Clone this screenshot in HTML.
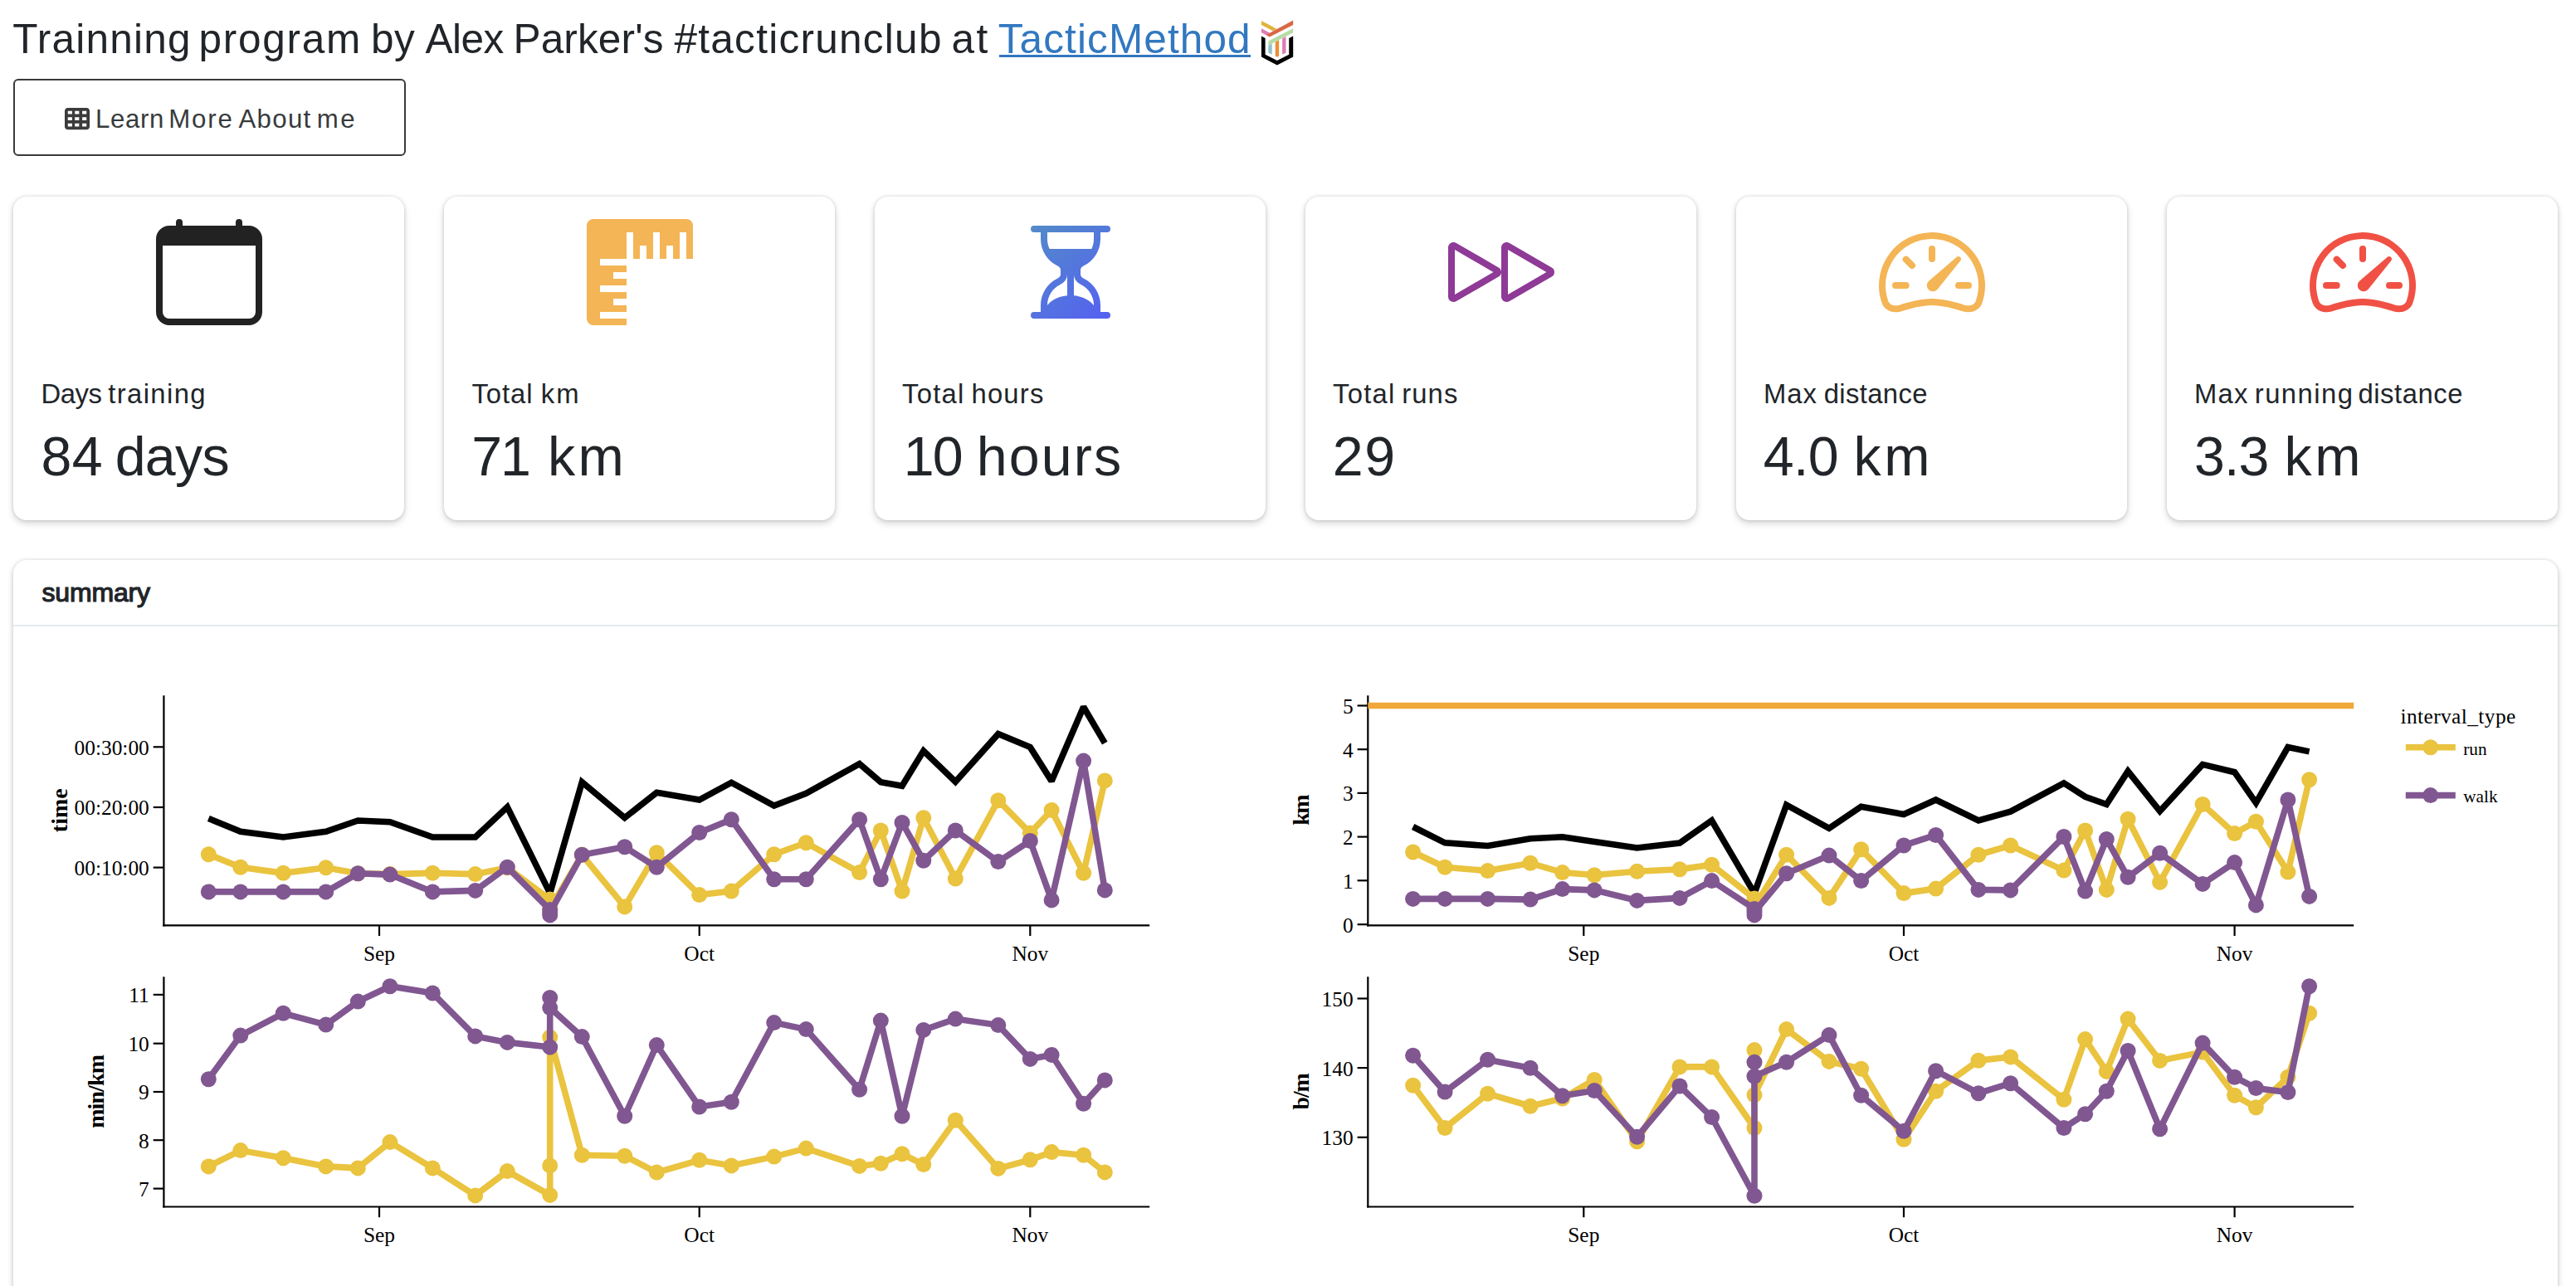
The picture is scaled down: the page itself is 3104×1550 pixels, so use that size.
<!DOCTYPE html>
<html lang="en">
<head>
<meta charset="utf-8">
<title>Trainning program</title>
<style>
html,body{margin:0;padding:0;background:#fff;}
body{width:3104px;height:1550px;overflow:hidden;position:relative;font-family:"Liberation Sans",sans-serif;color:#212529;}
.abs{position:absolute;white-space:nowrap;}
.tx{position:absolute;white-space:nowrap;}
#uline{position:absolute;left:1203.75px;top:65.5px;width:303.25px;height:3.4px;background:#3278c0;}
#logo{left:1519px;top:24px;}
#btn{left:16px;top:95px;width:469px;height:89px;border:2px solid #3a3a3a;border-radius:6px;box-sizing:content-box;}
#btn svg{position:absolute;left:60px;top:30.6px;}
#btn span{position:absolute;left:99px;top:22px;font-size:30.3px;line-height:44px;color:#373a3c;}
.card{position:absolute;top:237px;width:471px;height:390px;border-radius:16px;background:#fff;box-shadow:0 0 4px rgba(0,0,0,.14),0 4px 8px rgba(0,0,0,.16);}
.card svg{position:absolute;left:171.5px;top:27px;}
.card .t{position:absolute;left:32.5px;top:213px;font-size:34px;line-height:50px;white-space:nowrap;}
.card .v{position:absolute;left:31.5px;top:270px;font-size:68px;line-height:90px;white-space:nowrap;}
#sum{position:absolute;left:16px;top:675px;width:3066px;height:900px;border-radius:16px;background:#fff;box-shadow:0 0 4px rgba(0,0,0,.14),0 4px 8px rgba(0,0,0,.16);}
#sumh{position:absolute;left:0;top:0;width:100%;height:78px;border-bottom:2px solid #e6e9ec;}
#sumh span{position:absolute;left:32.5px;top:18px;font-size:30.6px;line-height:44px;font-weight:bold;}
</style>
</head>
<body>
<svg id="logo" class="abs" width="40" height="56" viewBox="0 0 40 56">
<polygon fill="#e2b33c" points="0.9,0.9 19.6,10.9 14.9,13.4 0.9,5.9"/>
<polygon fill="#df7cb6" points="0.9,10.3 10.9,15.5 10.9,20.5 0.9,15.2"/>
<polygon fill="#8ec3cf" points="9.3,30.8 13.7,28.6 13.7,41.7 9.3,39.5"/>
<path fill="#eb8f35" d="M17.7 26.4L22.1 24.3V42.4a2.2 2.2 0 0 1-4.400 0z"/>
<polygon fill="#df7cb6" points="26.1,22.4 30.5,20.1 30.5,39.5 26.1,41.7"/>
<polygon fill="#b5dca6" points="39.2,10.3 39.2,15.2 9.3,30.8 9.3,25.5"/>
<polygon fill="#d96846" points="39.2,0.6 39.2,5.9 10.9,20.5 6.8,18.0"/>
<polygon fill="#000" points="0.9,19.6 0.9,44.5 19.9,54.4 39.2,44.5 39.2,19.6 34.2,22.1 34.2,41.7 19.9,49.1 5.6,41.7 5.6,22.1"/>

</svg>
<div id="btn" class="abs">
<svg width="30" height="30" viewBox="0 0 512 512"><path fill="#3b3b3b" d="M64 32C28.7 32 0 60.7 0 96V416c0 35.3 28.7 64 64 64H448c35.3 0 64-28.7 64-64V96c0-35.3-28.7-64-64-64H64zm88 64v64H64V96h88zm56 0h88v64H208V96zm240 0v64H360V96h88zM64 224h88v64H64V224zm232 0v64H208V224h88zm64 0h88v64H360V224zM152 352v64H64V352h88zm56 0h88v64H208V352zm240 0v64H360V352h88z"/></svg>
</div>

<div class="card" style="left:16px">
<svg width="128" height="128" viewBox="0 0 16 16" fill="#222"><path d="M3.5 0a.5.5 0 0 1 .5.5V1h8V.5a.5.5 0 0 1 1 0V1h1a2 2 0 0 1 2 2v11a2 2 0 0 1-2 2H2a2 2 0 0 1-2-2V3a2 2 0 0 1 2-2h1V.5a.5.5 0 0 1 .5-.5zM1 4v10a1 1 0 0 0 1 1h12a1 1 0 0 0 1-1V4H1z"/></svg>
</div>
<div class="card" style="left:535px">
<svg width="128" height="128" viewBox="0 0 16 16" fill="#f4b556"><path d="M1 0a1 1 0 0 0-1 1v14a1 1 0 0 0 1 1h5v-1H2v-1h4v-1H4v-1h2v-1H2v-1h4V9H4V8h2V7H2V6h4V2h1v4h1V4h1v2h1V2h1v4h1V4h1v2h1V2h1v4h1V1a1 1 0 0 0-1-1H1z"/></svg>
</div>
<div class="card" style="left:1054px">
<svg width="128" height="128" viewBox="0 0 16 16"><defs><linearGradient id="hg" x1="2" y1="1" x2="14" y2="15" gradientUnits="userSpaceOnUse"><stop offset="0" stop-color="#528bc8"/><stop offset="1" stop-color="#5560f2"/></linearGradient></defs><path fill="url(#hg)" d="M2.5 15a.5.5 0 1 1 0-1h1v-1a4.5 4.5 0 0 1 2.557-4.06c.29-.139.443-.377.443-.59v-.7c0-.213-.154-.451-.443-.59A4.5 4.5 0 0 1 3.5 3V2h-1a.5.5 0 0 1 0-1h11a.5.5 0 0 1 0 1h-1v1a4.5 4.5 0 0 1-2.557 4.06c-.29.139-.443.377-.443.59v.7c0 .213.154.451.443.59A4.5 4.5 0 0 1 12.5 13v1h1a.5.5 0 0 1 0 1h-11zm2-13v1c0 .537.12 1.045.337 1.5h6.326c.216-.455.337-.963.337-1.5V2h-7zm3 6.35c0 .701-.478 1.236-1.011 1.492A3.5 3.5 0 0 0 4.5 13s.866-1.299 3-1.48V8.35zm1 0v3.17c2.134.181 3 1.48 3 1.48a3.5 3.5 0 0 0-1.989-3.158C8.978 9.586 8.5 9.052 8.5 8.351z"/></svg>
</div>
<div class="card" style="left:1573px">
<svg width="128" height="128" viewBox="0 0 16 16" fill="#8e3a96"><path d="M6.804 8 1 4.633v6.734L6.804 8zm.792-.696a.802.802 0 0 1 0 1.392l-6.363 3.692C.713 12.69 0 12.345 0 11.692V4.308c0-.653.713-.998 1.233-.696l6.363 3.692z"/><path d="M14.804 8 9 4.633v6.734L14.804 8zm.792-.696a.802.802 0 0 1 0 1.392l-6.363 3.692C8.713 12.69 8 12.345 8 11.692V4.308c0-.653.713-.998 1.233-.696l6.363 3.692z"/></svg>
</div>
<div class="card" style="left:2092px">
<svg width="128" height="128" viewBox="0 0 16 16" fill="#f4b556"><path d="M8 4a.5.5 0 0 1 .5.5V6a.5.5 0 0 1-1 0V4.500A.5.5 0 0 1 8 4zM3.732 5.732a.5.5 0 0 1 .707 0l.915.914a.5.5 0 1 1-.708.708l-.914-.915a.5.5 0 0 1 0-.707zM2 10a.5.5 0 0 1 .5-.5h1.586a.5.5 0 0 1 0 1H2.500A.5.5 0 0 1 2 10zm9.500 0a.5.5 0 0 1 .5-.5h1.500a.5.5 0 0 1 0 1H12a.5.5 0 0 1-.5-.5zm.754-4.246a.389.389 0 0 0-.527-.02L7.547 9.310a.91.91 0 1 0 1.302 1.258l3.434-4.297a.389.389 0 0 0-.029-.518z"/><path fill-rule="evenodd" d="M0 10a8 8 0 1 1 15.547 2.661c-.442 1.253-1.845 1.602-2.932 1.250C11.309 13.488 9.475 13 8 13c-1.474 0-3.310.488-4.615.911-1.087.352-2.490.003-2.932-1.250A7.988 7.988 0 0 1 0 10zm8-7a7 7 0 0 0-6.603 9.329c.203.575.923.876 1.680.630C4.397 12.533 6.358 12 8 12s3.604.532 4.923.960c.757.245 1.477-.056 1.680-.631A7 7 0 0 0 8 3z"/></svg>
</div>
<div class="card" style="left:2611px">
<svg width="128" height="128" viewBox="0 0 16 16" fill="#f05144"><path d="M8 4a.5.5 0 0 1 .5.5V6a.5.5 0 0 1-1 0V4.500A.5.5 0 0 1 8 4zM3.732 5.732a.5.5 0 0 1 .707 0l.915.914a.5.5 0 1 1-.708.708l-.914-.915a.5.5 0 0 1 0-.707zM2 10a.5.5 0 0 1 .5-.5h1.586a.5.5 0 0 1 0 1H2.500A.5.5 0 0 1 2 10zm9.500 0a.5.5 0 0 1 .5-.5h1.500a.5.5 0 0 1 0 1H12a.5.5 0 0 1-.5-.5zm.754-4.246a.389.389 0 0 0-.527-.02L7.547 9.310a.91.91 0 1 0 1.302 1.258l3.434-4.297a.389.389 0 0 0-.029-.518z"/><path fill-rule="evenodd" d="M0 10a8 8 0 1 1 15.547 2.661c-.442 1.253-1.845 1.602-2.932 1.250C11.309 13.488 9.475 13 8 13c-1.474 0-3.310.488-4.615.911-1.087.352-2.490.003-2.932-1.250A7.988 7.988 0 0 1 0 10zm8-7a7 7 0 0 0-6.603 9.329c.203.575.923.876 1.680.630C4.397 12.533 6.358 12 8 12s3.604.532 4.923.960c.757.245 1.477-.056 1.680-.631A7 7 0 0 0 8 3z"/></svg>
</div>

<div id="sum"><div id="sumh"></div></div>
<div id="uline"></div>
<div class="title">
<span class="tx" style="left:15.25px;top:17.00px;font-size:49.5px;line-height:59px;letter-spacing:1.22px;">Trainning</span>
<span class="tx" style="left:239.50px;top:17.00px;font-size:49.5px;line-height:59px;letter-spacing:1.75px;">program</span>
<span class="tx" style="left:447.00px;top:17.00px;font-size:49.5px;line-height:59px;letter-spacing:0.50px;">by</span>
<span class="tx" style="left:512.50px;top:17.00px;font-size:49.5px;line-height:59px;letter-spacing:-0.50px;">Alex</span>
<span class="tx" style="left:618.50px;top:17.00px;font-size:49.5px;line-height:59px;letter-spacing:0.14px;">Parker's</span>
<span class="tx" style="left:812.50px;top:17.00px;font-size:49.5px;line-height:59px;letter-spacing:1.27px;">#tacticrunclub</span>
<span class="tx" style="left:1146.50px;top:17.00px;font-size:49.5px;line-height:59px;letter-spacing:2.50px;">at</span>
<a class="tx" style="left:1202.75px;top:17.00px;font-size:49.5px;line-height:59px;letter-spacing:1.11px;color:#3278c0;">TacticMethod</a>
</div>
<div class="btn-label">
<span class="tx" style="left:115.00px;top:125.00px;font-size:31.2px;line-height:37px;letter-spacing:0.62px;color:#383b3d;">Learn</span>
<span class="tx" style="left:203.25px;top:125.00px;font-size:31.2px;line-height:37px;letter-spacing:1.83px;color:#383b3d;">More</span>
<span class="tx" style="left:287.50px;top:125.00px;font-size:31.2px;line-height:37px;letter-spacing:1.31px;color:#383b3d;">About</span>
<span class="tx" style="left:381.75px;top:125.00px;font-size:31.2px;line-height:37px;letter-spacing:2.50px;color:#383b3d;">me</span>
</div>
<div class="vb-title">
<span class="tx" style="left:49.50px;top:455.00px;font-size:32.8px;line-height:39px;letter-spacing:-0.42px;">Days</span>
<span class="tx" style="left:130.25px;top:455.00px;font-size:32.8px;line-height:39px;letter-spacing:1.39px;">training</span>
</div>
<div class="vb-value">
<span class="tx" style="left:49.50px;top:510.00px;font-size:66.3px;line-height:80px;letter-spacing:0.50px;">84</span>
<span class="tx" style="left:138.75px;top:510.00px;font-size:66.3px;line-height:80px;letter-spacing:-0.75px;">days</span>
</div>
<div class="vb-title">
<span class="tx" style="left:568.50px;top:455.00px;font-size:32.8px;line-height:39px;letter-spacing:0.94px;">Total</span>
<span class="tx" style="left:651.75px;top:455.00px;font-size:32.8px;line-height:39px;letter-spacing:2.00px;">km</span>
</div>
<div class="vb-value">
<span class="tx" style="left:568.25px;top:510.00px;font-size:66.3px;line-height:80px;letter-spacing:-2.00px;">71</span>
<span class="tx" style="left:659.88px;top:510.00px;font-size:66.3px;line-height:80px;letter-spacing:3.50px;">km</span>
</div>
<div class="vb-title">
<span class="tx" style="left:1087.00px;top:455.00px;font-size:32.8px;line-height:39px;letter-spacing:1.25px;">Total</span>
<span class="tx" style="left:1170.50px;top:455.00px;font-size:32.8px;line-height:39px;letter-spacing:1.19px;">hours</span>
</div>
<div class="vb-value">
<span class="tx" style="left:1088.75px;top:510.00px;font-size:66.3px;line-height:80px;letter-spacing:-1.75px;">10</span>
<span class="tx" style="left:1176.75px;top:510.00px;font-size:66.3px;line-height:80px;letter-spacing:2.12px;">hours</span>
</div>
<div class="vb-title">
<span class="tx" style="left:1606.00px;top:455.00px;font-size:32.8px;line-height:39px;letter-spacing:1.25px;">Total</span>
<span class="tx" style="left:1689.25px;top:455.00px;font-size:32.8px;line-height:39px;letter-spacing:1.08px;">runs</span>
</div>
<div class="vb-value">
<span class="tx" style="left:1605.75px;top:510.00px;font-size:66.3px;line-height:80px;letter-spacing:1.75px;">29</span>
</div>
<div class="vb-title">
<span class="tx" style="left:2125.00px;top:455.00px;font-size:32.8px;line-height:39px;letter-spacing:1.00px;">Max</span>
<span class="tx" style="left:2197.75px;top:455.00px;font-size:32.8px;line-height:39px;letter-spacing:0.36px;">distance</span>
</div>
<div class="vb-value">
<span class="tx" style="left:2124.75px;top:510.00px;font-size:66.3px;line-height:80px;letter-spacing:-0.62px;">4.0</span>
<span class="tx" style="left:2233.62px;top:510.00px;font-size:66.3px;line-height:80px;letter-spacing:3.50px;">km</span>
</div>
<div class="vb-title">
<span class="tx" style="left:2644.00px;top:455.00px;font-size:32.8px;line-height:39px;letter-spacing:1.25px;">Max</span>
<span class="tx" style="left:2716.75px;top:455.00px;font-size:32.8px;line-height:39px;letter-spacing:1.46px;">running</span>
<span class="tx" style="left:2841.50px;top:455.00px;font-size:32.8px;line-height:39px;letter-spacing:0.54px;">distance</span>
</div>
<div class="vb-value">
<span class="tx" style="left:2644.00px;top:510.00px;font-size:66.3px;line-height:80px;letter-spacing:-0.88px;">3.3</span>
<span class="tx" style="left:2752.62px;top:510.00px;font-size:66.3px;line-height:80px;letter-spacing:3.50px;">km</span>
</div>
<div class="card-title">
<span class="tx" style="left:50.50px;top:695.00px;font-size:32.0px;line-height:38px;letter-spacing:-0.18px;-webkit-text-stroke:1.2px #212529;">summary</span>
</div>
<svg id="charts" width="3104" height="800" viewBox="0 780 3104 800" style="position:absolute;left:0;top:780px;font-family:'Liberation Serif',serif" fill="#000">
<g>
<line x1="457.0" x2="457.0" y1="1115.3" y2="1128.0" stroke="#000" stroke-width="2.2"/>
<text x="457.0" y="1157.8" text-anchor="middle" font-size="25.4">Sep</text>
<line x1="842.7" x2="842.7" y1="1115.3" y2="1128.0" stroke="#000" stroke-width="2.2"/>
<text x="842.7" y="1157.8" text-anchor="middle" font-size="25.4">Oct</text>
<line x1="1241.3" x2="1241.3" y1="1115.3" y2="1128.0" stroke="#000" stroke-width="2.2"/>
<text x="1241.3" y="1157.8" text-anchor="middle" font-size="25.4">Nov</text>
<line x1="196.3" x2="1385.2" y1="1115.3" y2="1115.3" stroke="#000" stroke-width="2.2"/>
<line x1="184.7" x2="197.4" y1="900.3" y2="900.3" stroke="#000" stroke-width="2.2"/>
<text x="179.8" y="909.7" text-anchor="end" font-size="25.4">00:30:00</text>
<line x1="184.7" x2="197.4" y1="973.0" y2="973.0" stroke="#000" stroke-width="2.2"/>
<text x="179.8" y="982.4" text-anchor="end" font-size="25.4">00:20:00</text>
<line x1="184.7" x2="197.4" y1="1045.6" y2="1045.6" stroke="#000" stroke-width="2.2"/>
<text x="179.8" y="1055.0" text-anchor="end" font-size="25.4">00:10:00</text>
<line x1="197.4" x2="197.4" y1="838.3" y2="1116.4" stroke="#000" stroke-width="2.2"/>
<text transform="translate(81.0,976.8) rotate(-90)" text-anchor="middle" font-size="27.9" font-weight="bold" letter-spacing="0">time</text>
<polyline points="251.3,986.5 289.8,1002.3 341.3,1009.0 392.7,1002.3 431.3,989.0 469.9,990.7 521.3,1009.0 572.7,1009.0 611.3,972.7 662.7,1076.6 701.3,942.7 752.7,985.7 791.3,955.2 842.7,964.0 881.3,943.2 932.7,971.0 971.3,956.4 1035.6,920.6 1061.3,942.7 1087.0,947.2 1112.8,905.1 1151.3,942.2 1202.8,884.6 1241.3,900.6 1267.1,941.4 1305.6,852.0 1331.3,895.6" fill="none" stroke="#000" stroke-width="7.6" stroke-linejoin="miter" stroke-miterlimit="2"/>
<polyline points="251.3,1029.8 289.8,1045.3 341.3,1052.3 392.7,1045.8 431.3,1052.8 469.9,1053.6 521.3,1052.3 572.7,1053.6 611.3,1045.8 662.7,1084.1 662.7,1090.4 662.7,1095.4 701.3,1030.3 752.7,1092.9 791.3,1027.8 842.7,1078.6 881.3,1074.1 932.7,1029.8 971.3,1015.8 1035.6,1051.6 1061.3,1001.0 1087.0,1074.1 1112.8,985.7 1151.3,1059.1 1202.8,964.7 1241.3,1004.0 1267.1,976.5 1305.6,1052.3 1331.3,940.9" fill="none" stroke="#eac33f" stroke-width="7.6" stroke-linejoin="miter" stroke-miterlimit="2"/>
<circle cx="251.3" cy="1029.8" r="9.5" fill="#eac33f"/><circle cx="289.8" cy="1045.3" r="9.5" fill="#eac33f"/><circle cx="341.3" cy="1052.3" r="9.5" fill="#eac33f"/><circle cx="392.7" cy="1045.8" r="9.5" fill="#eac33f"/><circle cx="431.3" cy="1052.8" r="9.5" fill="#eac33f"/><circle cx="469.9" cy="1053.6" r="9.5" fill="#eac33f"/><circle cx="521.3" cy="1052.3" r="9.5" fill="#eac33f"/><circle cx="572.7" cy="1053.6" r="9.5" fill="#eac33f"/><circle cx="611.3" cy="1045.8" r="9.5" fill="#eac33f"/><circle cx="662.7" cy="1084.1" r="9.5" fill="#eac33f"/><circle cx="662.7" cy="1090.4" r="9.5" fill="#eac33f"/><circle cx="662.7" cy="1095.4" r="9.5" fill="#eac33f"/><circle cx="701.3" cy="1030.3" r="9.5" fill="#eac33f"/><circle cx="752.7" cy="1092.9" r="9.5" fill="#eac33f"/><circle cx="791.3" cy="1027.8" r="9.5" fill="#eac33f"/><circle cx="842.7" cy="1078.6" r="9.5" fill="#eac33f"/><circle cx="881.3" cy="1074.1" r="9.5" fill="#eac33f"/><circle cx="932.7" cy="1029.8" r="9.5" fill="#eac33f"/><circle cx="971.3" cy="1015.8" r="9.5" fill="#eac33f"/><circle cx="1035.6" cy="1051.6" r="9.5" fill="#eac33f"/><circle cx="1061.3" cy="1001.0" r="9.5" fill="#eac33f"/><circle cx="1087.0" cy="1074.1" r="9.5" fill="#eac33f"/><circle cx="1112.8" cy="985.7" r="9.5" fill="#eac33f"/><circle cx="1151.3" cy="1059.1" r="9.5" fill="#eac33f"/><circle cx="1202.8" cy="964.7" r="9.5" fill="#eac33f"/><circle cx="1241.3" cy="1004.0" r="9.5" fill="#eac33f"/><circle cx="1267.1" cy="976.5" r="9.5" fill="#eac33f"/><circle cx="1305.6" cy="1052.3" r="9.5" fill="#eac33f"/><circle cx="1331.3" cy="940.9" r="9.5" fill="#eac33f"/>
<polyline points="251.3,1074.9 289.8,1074.9 341.3,1074.9 392.7,1074.9 431.3,1052.8 469.9,1054.1 521.3,1074.9 572.7,1073.4 611.3,1045.3 662.7,1096.6 662.7,1102.9 662.7,1099.9 701.3,1030.3 752.7,1020.8 791.3,1045.3 842.7,1003.5 881.3,987.7 932.7,1059.8 971.3,1059.8 1035.6,987.7 1061.3,1059.8 1087.0,991.5 1112.8,1037.3 1151.3,1001.0 1202.8,1038.6 1241.3,1013.5 1267.1,1084.9 1305.6,917.1 1331.3,1072.9" fill="none" stroke="#815791" stroke-width="7.6" stroke-linejoin="miter" stroke-miterlimit="2"/>
<circle cx="251.3" cy="1074.9" r="9.5" fill="#815791"/><circle cx="289.8" cy="1074.9" r="9.5" fill="#815791"/><circle cx="341.3" cy="1074.9" r="9.5" fill="#815791"/><circle cx="392.7" cy="1074.9" r="9.5" fill="#815791"/><circle cx="431.3" cy="1052.8" r="9.5" fill="#815791"/><circle cx="469.9" cy="1054.1" r="9.5" fill="#815791"/><circle cx="521.3" cy="1074.9" r="9.5" fill="#815791"/><circle cx="572.7" cy="1073.4" r="9.5" fill="#815791"/><circle cx="611.3" cy="1045.3" r="9.5" fill="#815791"/><circle cx="662.7" cy="1096.6" r="9.5" fill="#815791"/><circle cx="662.7" cy="1102.9" r="9.5" fill="#815791"/><circle cx="662.7" cy="1099.9" r="9.5" fill="#815791"/><circle cx="701.3" cy="1030.3" r="9.5" fill="#815791"/><circle cx="752.7" cy="1020.8" r="9.5" fill="#815791"/><circle cx="791.3" cy="1045.3" r="9.5" fill="#815791"/><circle cx="842.7" cy="1003.5" r="9.5" fill="#815791"/><circle cx="881.3" cy="987.7" r="9.5" fill="#815791"/><circle cx="932.7" cy="1059.8" r="9.5" fill="#815791"/><circle cx="971.3" cy="1059.8" r="9.5" fill="#815791"/><circle cx="1035.6" cy="987.7" r="9.5" fill="#815791"/><circle cx="1061.3" cy="1059.8" r="9.5" fill="#815791"/><circle cx="1087.0" cy="991.5" r="9.5" fill="#815791"/><circle cx="1112.8" cy="1037.3" r="9.5" fill="#815791"/><circle cx="1151.3" cy="1001.0" r="9.5" fill="#815791"/><circle cx="1202.8" cy="1038.6" r="9.5" fill="#815791"/><circle cx="1241.3" cy="1013.5" r="9.5" fill="#815791"/><circle cx="1267.1" cy="1084.9" r="9.5" fill="#815791"/><circle cx="1305.6" cy="917.1" r="9.5" fill="#815791"/><circle cx="1331.3" cy="1072.9" r="9.5" fill="#815791"/>
</g>
<g>
<line x1="457.0" x2="457.0" y1="1454.5" y2="1467.2" stroke="#000" stroke-width="2.2"/>
<text x="457.0" y="1497.0" text-anchor="middle" font-size="25.4">Sep</text>
<line x1="842.7" x2="842.7" y1="1454.5" y2="1467.2" stroke="#000" stroke-width="2.2"/>
<text x="842.7" y="1497.0" text-anchor="middle" font-size="25.4">Oct</text>
<line x1="1241.3" x2="1241.3" y1="1454.5" y2="1467.2" stroke="#000" stroke-width="2.2"/>
<text x="1241.3" y="1497.0" text-anchor="middle" font-size="25.4">Nov</text>
<line x1="196.3" x2="1385.2" y1="1454.5" y2="1454.5" stroke="#000" stroke-width="2.2"/>
<line x1="184.7" x2="197.4" y1="1198.9" y2="1198.9" stroke="#000" stroke-width="2.2"/>
<text x="179.8" y="1208.3" text-anchor="end" font-size="25.4">11</text>
<line x1="184.7" x2="197.4" y1="1257.7" y2="1257.7" stroke="#000" stroke-width="2.2"/>
<text x="179.8" y="1267.1" text-anchor="end" font-size="25.4">10</text>
<line x1="184.7" x2="197.4" y1="1316.0" y2="1316.0" stroke="#000" stroke-width="2.2"/>
<text x="179.8" y="1325.4" text-anchor="end" font-size="25.4">9</text>
<line x1="184.7" x2="197.4" y1="1374.2" y2="1374.2" stroke="#000" stroke-width="2.2"/>
<text x="179.8" y="1383.6" text-anchor="end" font-size="25.4">8</text>
<line x1="184.7" x2="197.4" y1="1432.6" y2="1432.6" stroke="#000" stroke-width="2.2"/>
<text x="179.8" y="1442.0" text-anchor="end" font-size="25.4">7</text>
<line x1="197.4" x2="197.4" y1="1177.3" y2="1455.6" stroke="#000" stroke-width="2.2"/>
<text transform="translate(125.4,1315.9) rotate(-90)" text-anchor="middle" font-size="27.9" font-weight="bold" letter-spacing="-0.85">min/km</text>
<polyline points="251.3,1405.9 289.8,1386.6 341.3,1395.8 392.7,1405.9 431.3,1407.9 469.9,1376.6 521.3,1407.9 572.7,1440.9 611.3,1411.6 662.7,1440.4 662.7,1404.9 662.7,1250.1 701.3,1392.3 752.7,1393.3 791.3,1413.1 842.7,1398.3 881.3,1404.9 932.7,1394.1 971.3,1384.1 1035.6,1405.4 1061.3,1402.3 1087.0,1390.8 1112.8,1403.6 1151.3,1350.3 1202.8,1408.4 1241.3,1397.8 1267.1,1388.6 1305.6,1392.3 1331.3,1412.9" fill="none" stroke="#eac33f" stroke-width="7.6" stroke-linejoin="miter" stroke-miterlimit="2"/>
<circle cx="251.3" cy="1405.9" r="9.5" fill="#eac33f"/><circle cx="289.8" cy="1386.6" r="9.5" fill="#eac33f"/><circle cx="341.3" cy="1395.8" r="9.5" fill="#eac33f"/><circle cx="392.7" cy="1405.9" r="9.5" fill="#eac33f"/><circle cx="431.3" cy="1407.9" r="9.5" fill="#eac33f"/><circle cx="469.9" cy="1376.6" r="9.5" fill="#eac33f"/><circle cx="521.3" cy="1407.9" r="9.5" fill="#eac33f"/><circle cx="572.7" cy="1440.9" r="9.5" fill="#eac33f"/><circle cx="611.3" cy="1411.6" r="9.5" fill="#eac33f"/><circle cx="662.7" cy="1440.4" r="9.5" fill="#eac33f"/><circle cx="662.7" cy="1404.9" r="9.5" fill="#eac33f"/><circle cx="662.7" cy="1250.1" r="9.5" fill="#eac33f"/><circle cx="701.3" cy="1392.3" r="9.5" fill="#eac33f"/><circle cx="752.7" cy="1393.3" r="9.5" fill="#eac33f"/><circle cx="791.3" cy="1413.1" r="9.5" fill="#eac33f"/><circle cx="842.7" cy="1398.3" r="9.5" fill="#eac33f"/><circle cx="881.3" cy="1404.9" r="9.5" fill="#eac33f"/><circle cx="932.7" cy="1394.1" r="9.5" fill="#eac33f"/><circle cx="971.3" cy="1384.1" r="9.5" fill="#eac33f"/><circle cx="1035.6" cy="1405.4" r="9.5" fill="#eac33f"/><circle cx="1061.3" cy="1402.3" r="9.5" fill="#eac33f"/><circle cx="1087.0" cy="1390.8" r="9.5" fill="#eac33f"/><circle cx="1112.8" cy="1403.6" r="9.5" fill="#eac33f"/><circle cx="1151.3" cy="1350.3" r="9.5" fill="#eac33f"/><circle cx="1202.8" cy="1408.4" r="9.5" fill="#eac33f"/><circle cx="1241.3" cy="1397.8" r="9.5" fill="#eac33f"/><circle cx="1267.1" cy="1388.6" r="9.5" fill="#eac33f"/><circle cx="1305.6" cy="1392.3" r="9.5" fill="#eac33f"/><circle cx="1331.3" cy="1412.9" r="9.5" fill="#eac33f"/>
<polyline points="251.3,1300.7 289.8,1248.1 341.3,1221.3 392.7,1235.1 431.3,1207.1 469.9,1188.8 521.3,1197.0 572.7,1248.9 611.3,1256.4 662.7,1262.1 662.7,1202.5 662.7,1214.6 701.3,1249.6 752.7,1345.3 791.3,1259.6 842.7,1334.0 881.3,1328.2 932.7,1232.6 971.3,1240.6 1035.6,1313.2 1061.3,1230.1 1087.0,1345.3 1112.8,1241.4 1151.3,1228.1 1202.8,1235.6 1241.3,1276.4 1267.1,1271.4 1305.6,1330.2 1331.3,1301.9" fill="none" stroke="#815791" stroke-width="7.6" stroke-linejoin="miter" stroke-miterlimit="2"/>
<circle cx="251.3" cy="1300.7" r="9.5" fill="#815791"/><circle cx="289.8" cy="1248.1" r="9.5" fill="#815791"/><circle cx="341.3" cy="1221.3" r="9.5" fill="#815791"/><circle cx="392.7" cy="1235.1" r="9.5" fill="#815791"/><circle cx="431.3" cy="1207.1" r="9.5" fill="#815791"/><circle cx="469.9" cy="1188.8" r="9.5" fill="#815791"/><circle cx="521.3" cy="1197.0" r="9.5" fill="#815791"/><circle cx="572.7" cy="1248.9" r="9.5" fill="#815791"/><circle cx="611.3" cy="1256.4" r="9.5" fill="#815791"/><circle cx="662.7" cy="1262.1" r="9.5" fill="#815791"/><circle cx="662.7" cy="1202.5" r="9.5" fill="#815791"/><circle cx="662.7" cy="1214.6" r="9.5" fill="#815791"/><circle cx="701.3" cy="1249.6" r="9.5" fill="#815791"/><circle cx="752.7" cy="1345.3" r="9.5" fill="#815791"/><circle cx="791.3" cy="1259.6" r="9.5" fill="#815791"/><circle cx="842.7" cy="1334.0" r="9.5" fill="#815791"/><circle cx="881.3" cy="1328.2" r="9.5" fill="#815791"/><circle cx="932.7" cy="1232.6" r="9.5" fill="#815791"/><circle cx="971.3" cy="1240.6" r="9.5" fill="#815791"/><circle cx="1035.6" cy="1313.2" r="9.5" fill="#815791"/><circle cx="1061.3" cy="1230.1" r="9.5" fill="#815791"/><circle cx="1087.0" cy="1345.3" r="9.5" fill="#815791"/><circle cx="1112.8" cy="1241.4" r="9.5" fill="#815791"/><circle cx="1151.3" cy="1228.1" r="9.5" fill="#815791"/><circle cx="1202.8" cy="1235.6" r="9.5" fill="#815791"/><circle cx="1241.3" cy="1276.4" r="9.5" fill="#815791"/><circle cx="1267.1" cy="1271.4" r="9.5" fill="#815791"/><circle cx="1305.6" cy="1330.2" r="9.5" fill="#815791"/><circle cx="1331.3" cy="1301.9" r="9.5" fill="#815791"/>
</g>
<g>
<line x1="1908.3" x2="1908.3" y1="1115.3" y2="1128.0" stroke="#000" stroke-width="2.2"/>
<text x="1908.3" y="1157.8" text-anchor="middle" font-size="25.4">Sep</text>
<line x1="2294.0" x2="2294.0" y1="1115.3" y2="1128.0" stroke="#000" stroke-width="2.2"/>
<text x="2294.0" y="1157.8" text-anchor="middle" font-size="25.4">Oct</text>
<line x1="2692.6" x2="2692.6" y1="1115.3" y2="1128.0" stroke="#000" stroke-width="2.2"/>
<text x="2692.6" y="1157.8" text-anchor="middle" font-size="25.4">Nov</text>
<line x1="1647.2" x2="2836.2" y1="1115.3" y2="1115.3" stroke="#000" stroke-width="2.2"/>
<line x1="1635.6" x2="1648.3" y1="850.5" y2="850.5" stroke="#000" stroke-width="2.2"/>
<text x="1630.7" y="859.9" text-anchor="end" font-size="25.4">5</text>
<line x1="1635.6" x2="1648.3" y1="903.2" y2="903.2" stroke="#000" stroke-width="2.2"/>
<text x="1630.7" y="912.6" text-anchor="end" font-size="25.4">4</text>
<line x1="1635.6" x2="1648.3" y1="955.9" y2="955.9" stroke="#000" stroke-width="2.2"/>
<text x="1630.7" y="965.3" text-anchor="end" font-size="25.4">3</text>
<line x1="1635.6" x2="1648.3" y1="1008.6" y2="1008.6" stroke="#000" stroke-width="2.2"/>
<text x="1630.7" y="1018.0" text-anchor="end" font-size="25.4">2</text>
<line x1="1635.6" x2="1648.3" y1="1061.3" y2="1061.3" stroke="#000" stroke-width="2.2"/>
<text x="1630.7" y="1070.7" text-anchor="end" font-size="25.4">1</text>
<line x1="1635.6" x2="1648.3" y1="1114.2" y2="1114.2" stroke="#000" stroke-width="2.2"/>
<text x="1630.7" y="1123.6" text-anchor="end" font-size="25.4">0</text>
<line x1="1648.3" x2="1648.3" y1="838.3" y2="1116.4" stroke="#000" stroke-width="2.2"/>
<text transform="translate(1576.7,976.8) rotate(-90)" text-anchor="middle" font-size="27.9" font-weight="bold" letter-spacing="-1.5">km</text>
<line x1="1648.3" x2="2836.2" y1="850.5" y2="850.5" stroke="#f0a83a" stroke-width="7.6"/>
<polyline points="1702.6,996.5 1741.1,1015.8 1792.6,1019.5 1844.0,1010.8 1882.6,1008.8 1921.2,1014.5 1972.6,1022.0 2024.0,1016.0 2062.6,989.0 2114.0,1076.6 2152.6,970.2 2204.0,998.3 2242.6,972.2 2294.0,981.5 2332.6,964.0 2384.0,989.0 2422.6,978.2 2486.9,943.9 2512.6,960.2 2538.3,969.5 2564.1,929.6 2602.6,977.7 2654.1,921.4 2692.6,930.7 2718.4,967.7 2756.9,900.6 2782.6,905.9" fill="none" stroke="#000" stroke-width="7.6" stroke-linejoin="miter" stroke-miterlimit="2"/>
<polyline points="1702.6,1027.0 1741.1,1045.3 1792.6,1049.6 1844.0,1040.3 1882.6,1051.6 1921.2,1054.8 1972.6,1050.3 2024.0,1047.8 2062.6,1042.3 2114.0,1082.9 2114.0,1089.1 2114.0,1092.9 2152.6,1030.3 2204.0,1082.4 2242.6,1023.8 2294.0,1076.6 2332.6,1071.1 2384.0,1030.3 2422.6,1019.0 2486.9,1049.1 2512.6,1001.0 2538.3,1072.4 2564.1,987.2 2602.6,1063.4 2654.1,969.5 2692.6,1004.5 2718.4,990.2 2756.9,1051.1 2782.6,939.7" fill="none" stroke="#eac33f" stroke-width="7.6" stroke-linejoin="miter" stroke-miterlimit="2"/>
<circle cx="1702.6" cy="1027.0" r="9.5" fill="#eac33f"/><circle cx="1741.1" cy="1045.3" r="9.5" fill="#eac33f"/><circle cx="1792.6" cy="1049.6" r="9.5" fill="#eac33f"/><circle cx="1844.0" cy="1040.3" r="9.5" fill="#eac33f"/><circle cx="1882.6" cy="1051.6" r="9.5" fill="#eac33f"/><circle cx="1921.2" cy="1054.8" r="9.5" fill="#eac33f"/><circle cx="1972.6" cy="1050.3" r="9.5" fill="#eac33f"/><circle cx="2024.0" cy="1047.8" r="9.5" fill="#eac33f"/><circle cx="2062.6" cy="1042.3" r="9.5" fill="#eac33f"/><circle cx="2114.0" cy="1082.9" r="9.5" fill="#eac33f"/><circle cx="2114.0" cy="1089.1" r="9.5" fill="#eac33f"/><circle cx="2114.0" cy="1092.9" r="9.5" fill="#eac33f"/><circle cx="2152.6" cy="1030.3" r="9.5" fill="#eac33f"/><circle cx="2204.0" cy="1082.4" r="9.5" fill="#eac33f"/><circle cx="2242.6" cy="1023.8" r="9.5" fill="#eac33f"/><circle cx="2294.0" cy="1076.6" r="9.5" fill="#eac33f"/><circle cx="2332.6" cy="1071.1" r="9.5" fill="#eac33f"/><circle cx="2384.0" cy="1030.3" r="9.5" fill="#eac33f"/><circle cx="2422.6" cy="1019.0" r="9.5" fill="#eac33f"/><circle cx="2486.9" cy="1049.1" r="9.5" fill="#eac33f"/><circle cx="2512.6" cy="1001.0" r="9.5" fill="#eac33f"/><circle cx="2538.3" cy="1072.4" r="9.5" fill="#eac33f"/><circle cx="2564.1" cy="987.2" r="9.5" fill="#eac33f"/><circle cx="2602.6" cy="1063.4" r="9.5" fill="#eac33f"/><circle cx="2654.1" cy="969.5" r="9.5" fill="#eac33f"/><circle cx="2692.6" cy="1004.5" r="9.5" fill="#eac33f"/><circle cx="2718.4" cy="990.2" r="9.5" fill="#eac33f"/><circle cx="2756.9" cy="1051.1" r="9.5" fill="#eac33f"/><circle cx="2782.6" cy="939.7" r="9.5" fill="#eac33f"/>
<polyline points="1702.6,1083.4 1741.1,1083.4 1792.6,1083.4 1844.0,1084.1 1882.6,1071.6 1921.2,1072.9 1972.6,1085.4 2024.0,1082.4 2062.6,1061.6 2114.0,1095.4 2114.0,1102.9 2114.0,1099.2 2152.6,1052.8 2204.0,1031.1 2242.6,1061.6 2294.0,1019.0 2332.6,1006.5 2384.0,1072.4 2422.6,1072.9 2486.9,1008.5 2512.6,1074.1 2538.3,1011.5 2564.1,1057.3 2602.6,1028.3 2654.1,1065.4 2692.6,1039.6 2718.4,1090.9 2756.9,964.0 2782.6,1080.4" fill="none" stroke="#815791" stroke-width="7.6" stroke-linejoin="miter" stroke-miterlimit="2"/>
<circle cx="1702.6" cy="1083.4" r="9.5" fill="#815791"/><circle cx="1741.1" cy="1083.4" r="9.5" fill="#815791"/><circle cx="1792.6" cy="1083.4" r="9.5" fill="#815791"/><circle cx="1844.0" cy="1084.1" r="9.5" fill="#815791"/><circle cx="1882.6" cy="1071.6" r="9.5" fill="#815791"/><circle cx="1921.2" cy="1072.9" r="9.5" fill="#815791"/><circle cx="1972.6" cy="1085.4" r="9.5" fill="#815791"/><circle cx="2024.0" cy="1082.4" r="9.5" fill="#815791"/><circle cx="2062.6" cy="1061.6" r="9.5" fill="#815791"/><circle cx="2114.0" cy="1095.4" r="9.5" fill="#815791"/><circle cx="2114.0" cy="1102.9" r="9.5" fill="#815791"/><circle cx="2114.0" cy="1099.2" r="9.5" fill="#815791"/><circle cx="2152.6" cy="1052.8" r="9.5" fill="#815791"/><circle cx="2204.0" cy="1031.1" r="9.5" fill="#815791"/><circle cx="2242.6" cy="1061.6" r="9.5" fill="#815791"/><circle cx="2294.0" cy="1019.0" r="9.5" fill="#815791"/><circle cx="2332.6" cy="1006.5" r="9.5" fill="#815791"/><circle cx="2384.0" cy="1072.4" r="9.5" fill="#815791"/><circle cx="2422.6" cy="1072.9" r="9.5" fill="#815791"/><circle cx="2486.9" cy="1008.5" r="9.5" fill="#815791"/><circle cx="2512.6" cy="1074.1" r="9.5" fill="#815791"/><circle cx="2538.3" cy="1011.5" r="9.5" fill="#815791"/><circle cx="2564.1" cy="1057.3" r="9.5" fill="#815791"/><circle cx="2602.6" cy="1028.3" r="9.5" fill="#815791"/><circle cx="2654.1" cy="1065.4" r="9.5" fill="#815791"/><circle cx="2692.6" cy="1039.6" r="9.5" fill="#815791"/><circle cx="2718.4" cy="1090.9" r="9.5" fill="#815791"/><circle cx="2756.9" cy="964.0" r="9.5" fill="#815791"/><circle cx="2782.6" cy="1080.4" r="9.5" fill="#815791"/>
</g>
<g>
<line x1="1908.3" x2="1908.3" y1="1454.5" y2="1467.2" stroke="#000" stroke-width="2.2"/>
<text x="1908.3" y="1497.0" text-anchor="middle" font-size="25.4">Sep</text>
<line x1="2294.0" x2="2294.0" y1="1454.5" y2="1467.2" stroke="#000" stroke-width="2.2"/>
<text x="2294.0" y="1497.0" text-anchor="middle" font-size="25.4">Oct</text>
<line x1="2692.6" x2="2692.6" y1="1454.5" y2="1467.2" stroke="#000" stroke-width="2.2"/>
<text x="2692.6" y="1497.0" text-anchor="middle" font-size="25.4">Nov</text>
<line x1="1647.2" x2="2836.2" y1="1454.5" y2="1454.5" stroke="#000" stroke-width="2.2"/>
<line x1="1635.6" x2="1648.3" y1="1203.5" y2="1203.5" stroke="#000" stroke-width="2.2"/>
<text x="1630.7" y="1212.9" text-anchor="end" font-size="25.4">150</text>
<line x1="1635.6" x2="1648.3" y1="1287.1" y2="1287.1" stroke="#000" stroke-width="2.2"/>
<text x="1630.7" y="1296.5" text-anchor="end" font-size="25.4">140</text>
<line x1="1635.6" x2="1648.3" y1="1370.8" y2="1370.8" stroke="#000" stroke-width="2.2"/>
<text x="1630.7" y="1380.2" text-anchor="end" font-size="25.4">130</text>
<line x1="1648.3" x2="1648.3" y1="1177.3" y2="1455.6" stroke="#000" stroke-width="2.2"/>
<text transform="translate(1576.7,1315.9) rotate(-90)" text-anchor="middle" font-size="27.9" font-weight="bold" letter-spacing="-1.1">b/m</text>
<polyline points="1702.6,1308.2 1741.1,1359.5 1792.6,1318.2 1844.0,1333.2 1882.6,1324.0 1921.2,1301.4 1972.6,1375.8 2024.0,1285.9 2062.6,1285.9 2114.0,1359.5 2114.0,1265.6 2114.0,1319.7 2152.6,1240.6 2204.0,1279.4 2242.6,1288.2 2294.0,1373.3 2332.6,1315.2 2384.0,1278.2 2422.6,1273.9 2486.9,1325.2 2512.6,1252.6 2538.3,1291.4 2564.1,1228.1 2602.6,1278.4 2654.1,1268.1 2692.6,1320.2 2718.4,1334.7 2756.9,1298.2 2782.6,1221.3" fill="none" stroke="#eac33f" stroke-width="7.6" stroke-linejoin="miter" stroke-miterlimit="2"/>
<circle cx="1702.6" cy="1308.2" r="9.5" fill="#eac33f"/><circle cx="1741.1" cy="1359.5" r="9.5" fill="#eac33f"/><circle cx="1792.6" cy="1318.2" r="9.5" fill="#eac33f"/><circle cx="1844.0" cy="1333.2" r="9.5" fill="#eac33f"/><circle cx="1882.6" cy="1324.0" r="9.5" fill="#eac33f"/><circle cx="1921.2" cy="1301.4" r="9.5" fill="#eac33f"/><circle cx="1972.6" cy="1375.8" r="9.5" fill="#eac33f"/><circle cx="2024.0" cy="1285.9" r="9.5" fill="#eac33f"/><circle cx="2062.6" cy="1285.9" r="9.5" fill="#eac33f"/><circle cx="2114.0" cy="1359.5" r="9.5" fill="#eac33f"/><circle cx="2114.0" cy="1265.6" r="9.5" fill="#eac33f"/><circle cx="2114.0" cy="1319.7" r="9.5" fill="#eac33f"/><circle cx="2152.6" cy="1240.6" r="9.5" fill="#eac33f"/><circle cx="2204.0" cy="1279.4" r="9.5" fill="#eac33f"/><circle cx="2242.6" cy="1288.2" r="9.5" fill="#eac33f"/><circle cx="2294.0" cy="1373.3" r="9.5" fill="#eac33f"/><circle cx="2332.6" cy="1315.2" r="9.5" fill="#eac33f"/><circle cx="2384.0" cy="1278.2" r="9.5" fill="#eac33f"/><circle cx="2422.6" cy="1273.9" r="9.5" fill="#eac33f"/><circle cx="2486.9" cy="1325.2" r="9.5" fill="#eac33f"/><circle cx="2512.6" cy="1252.6" r="9.5" fill="#eac33f"/><circle cx="2538.3" cy="1291.4" r="9.5" fill="#eac33f"/><circle cx="2564.1" cy="1228.1" r="9.5" fill="#eac33f"/><circle cx="2602.6" cy="1278.4" r="9.5" fill="#eac33f"/><circle cx="2654.1" cy="1268.1" r="9.5" fill="#eac33f"/><circle cx="2692.6" cy="1320.2" r="9.5" fill="#eac33f"/><circle cx="2718.4" cy="1334.7" r="9.5" fill="#eac33f"/><circle cx="2756.9" cy="1298.2" r="9.5" fill="#eac33f"/><circle cx="2782.6" cy="1221.3" r="9.5" fill="#eac33f"/>
<polyline points="1702.6,1272.2 1741.1,1316.0 1792.6,1277.2 1844.0,1287.2 1882.6,1320.7 1921.2,1314.5 1972.6,1370.3 2024.0,1309.0 2062.6,1346.5 2114.0,1441.2 2114.0,1280.2 2114.0,1297.2 2152.6,1280.2 2204.0,1247.6 2242.6,1320.2 2294.0,1363.3 2332.6,1290.7 2384.0,1317.7 2422.6,1305.7 2486.9,1359.5 2512.6,1342.8 2538.3,1315.2 2564.1,1266.4 2602.6,1360.8 2654.1,1257.1 2692.6,1298.2 2718.4,1311.5 2756.9,1316.5 2782.6,1188.8" fill="none" stroke="#815791" stroke-width="7.6" stroke-linejoin="miter" stroke-miterlimit="2"/>
<circle cx="1702.6" cy="1272.2" r="9.5" fill="#815791"/><circle cx="1741.1" cy="1316.0" r="9.5" fill="#815791"/><circle cx="1792.6" cy="1277.2" r="9.5" fill="#815791"/><circle cx="1844.0" cy="1287.2" r="9.5" fill="#815791"/><circle cx="1882.6" cy="1320.7" r="9.5" fill="#815791"/><circle cx="1921.2" cy="1314.5" r="9.5" fill="#815791"/><circle cx="1972.6" cy="1370.3" r="9.5" fill="#815791"/><circle cx="2024.0" cy="1309.0" r="9.5" fill="#815791"/><circle cx="2062.6" cy="1346.5" r="9.5" fill="#815791"/><circle cx="2114.0" cy="1441.2" r="9.5" fill="#815791"/><circle cx="2114.0" cy="1280.2" r="9.5" fill="#815791"/><circle cx="2114.0" cy="1297.2" r="9.5" fill="#815791"/><circle cx="2152.6" cy="1280.2" r="9.5" fill="#815791"/><circle cx="2204.0" cy="1247.6" r="9.5" fill="#815791"/><circle cx="2242.6" cy="1320.2" r="9.5" fill="#815791"/><circle cx="2294.0" cy="1363.3" r="9.5" fill="#815791"/><circle cx="2332.6" cy="1290.7" r="9.5" fill="#815791"/><circle cx="2384.0" cy="1317.7" r="9.5" fill="#815791"/><circle cx="2422.6" cy="1305.7" r="9.5" fill="#815791"/><circle cx="2486.9" cy="1359.5" r="9.5" fill="#815791"/><circle cx="2512.6" cy="1342.8" r="9.5" fill="#815791"/><circle cx="2538.3" cy="1315.2" r="9.5" fill="#815791"/><circle cx="2564.1" cy="1266.4" r="9.5" fill="#815791"/><circle cx="2602.6" cy="1360.8" r="9.5" fill="#815791"/><circle cx="2654.1" cy="1257.1" r="9.5" fill="#815791"/><circle cx="2692.6" cy="1298.2" r="9.5" fill="#815791"/><circle cx="2718.4" cy="1311.5" r="9.5" fill="#815791"/><circle cx="2756.9" cy="1316.5" r="9.5" fill="#815791"/><circle cx="2782.6" cy="1188.8" r="9.5" fill="#815791"/>
</g>
<g>
<text x="2892.5" y="871.7" font-size="25.4" letter-spacing="0.4">interval_type</text>
<line x1="2898.8" x2="2958.8" y1="900.8" y2="900.8" stroke="#eac33f" stroke-width="7.6"/>
<circle cx="2928.7" cy="900.8" r="9.5" fill="#eac33f"/>
<text x="2968.3" y="909.5" font-size="21.2">run</text>
<line x1="2898.8" x2="2958.8" y1="958.6" y2="958.6" stroke="#815791" stroke-width="7.6"/>
<circle cx="2928.7" cy="958.6" r="9.5" fill="#815791"/>
<text x="2968.3" y="967.3" font-size="21.2">walk</text>
</g>
</svg>
</body>
</html>
